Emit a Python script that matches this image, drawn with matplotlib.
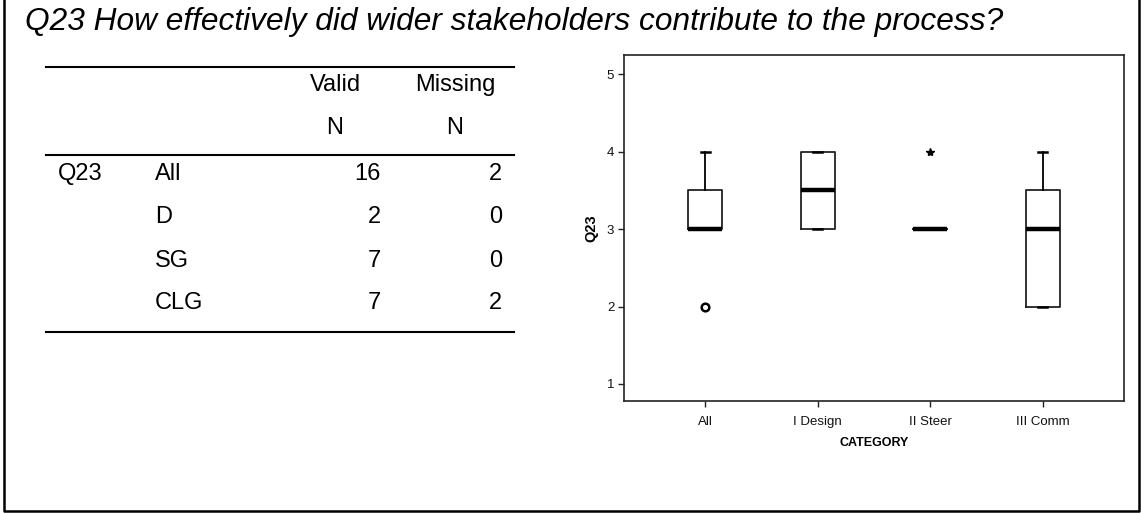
import matplotlib
matplotlib.use('Agg')
import matplotlib.pyplot as plt
from matplotlib.lines import Line2D

# ---------------- data ----------------
title = "Q23 How effectively did wider stakeholders contribute to the process?"

table_groups = ['All', 'D', 'SG', 'CLG']
valid_n = [16, 2, 7, 7]
missing_n = [2, 0, 0, 2]

categories = ['All', 'I Design', 'II Steer', 'III Comm']
q1 = [3, 3, 3, 2]
medians = [3, 3.5, 3, 3]
q3 = [3.5, 4, 3, 3.5]
whisk_lo = [3, 3, 3, 2]
whisk_hi = [4, 4, 3, 4]
outliers = [[2], [], [], []]      # circles
extremes = [[], [], [4], []]      # stars

# ---------------- figure ----------------
plt.rcParams['font.family'] = ['Liberation Sans', 'DejaVu Sans']
W, H = 1141, 513
fig = plt.figure(figsize=(W / 100, H / 100), dpi=100)
fig.patch.set_facecolor('white')


def fx(x):
    return x / W


def fy(y):
    return 1 - y / H


# outer frame (left, bottom, right)
fig.add_artist(Line2D([fx(4), fx(4), fx(1139), fx(1139)],
                      [fy(0), fy(511), fy(511), fy(0)],
                      transform=fig.transFigure, color='black', lw=1.8))

# title
fig.text(fx(25), fy(30), title, fontsize=22.8, fontstyle='italic',
         ha='left', va='baseline', color='black')

# ---------------- table ----------------
tfs = 17
for yy in (67, 155, 332):
    fig.add_artist(Line2D([fx(46), fx(514)], [fy(yy), fy(yy)],
                          transform=fig.transFigure, color='black', lw=1.5))
fig.text(fx(335), fy(91), 'Valid', fontsize=tfs, ha='center', va='baseline')
fig.text(fx(455), fy(91), 'Missing', fontsize=tfs, ha='center', va='baseline')
fig.text(fx(335), fy(134), 'N', fontsize=tfs, ha='center', va='baseline')
fig.text(fx(455), fy(134), 'N', fontsize=tfs, ha='center', va='baseline')
fig.text(fx(58), fy(180), 'Q23', fontsize=tfs, ha='left', va='baseline')
row_base = [180, 223, 267, 309]
for g, v, m, yb in zip(table_groups, valid_n, missing_n, row_base):
    fig.text(fx(155), fy(yb), g, fontsize=tfs, ha='left', va='baseline')
    fig.text(fx(381), fy(yb), str(v), fontsize=tfs, ha='right', va='baseline')
    fig.text(fx(502), fy(yb), str(m), fontsize=tfs, ha='right', va='baseline')

# ---------------- boxplot ----------------
ax = fig.add_axes([fx(624), fy(401), (1124 - 624) / W, (401 - 55) / H])
positions = list(range(1, len(categories) + 1))
stats = []
for c, a, md, b, lo, hi, fl in zip(categories, q1, medians, q3, whisk_lo, whisk_hi, outliers):
    stats.append(dict(label=c, q1=a, med=md, q3=b, whislo=lo, whishi=hi, fliers=fl))

ax.bxp(stats, positions=positions, widths=0.3, capwidths=0.08,
       boxprops=dict(color='#222222', lw=1.3),
       medianprops=dict(color='black', lw=3.2, solid_capstyle='butt'),
       whiskerprops=dict(color='black', lw=1.3),
       capprops=dict(color='black', lw=1.8),
       flierprops=dict(marker='o', markerfacecolor='white', markeredgecolor='black',
                       markersize=5.5, markeredgewidth=1.8, linestyle='none'))

for p, ex in zip(positions, extremes):
    if ex:
        ax.plot([p] * len(ex), ex, marker='*', color='black', ms=6, ls='none')

ax.set_xlim(0.28, 4.72)
ax.set_ylim(0.78, 5.25)
ax.set_yticks([1, 2, 3, 4, 5])
ax.set_xticks(positions)
ax.set_xticklabels(categories)
for s in ax.spines.values():
    s.set_linewidth(1.2)
    s.set_color('#222222')
ax.tick_params(axis='both', direction='out', length=4, width=1, color='#222222',
               labelsize=9.5, labelcolor='#111111')
ax.tick_params(axis='x', pad=7)
ax.tick_params(axis='y', pad=3)

ax.set_ylabel('Q23', fontsize=10.5, fontweight='bold')
ax.yaxis.set_label_coords((591 - 624) / 500, 0.5)
ax.yaxis.label.set_va('center')
ax.set_xlabel('CATEGORY', fontsize=9, fontweight='bold')
ax.xaxis.set_label_coords(0.5, -(443 - 401) / 346)
ax.xaxis.label.set_va('center')

fig.savefig('out.png', dpi=100, facecolor='white')
